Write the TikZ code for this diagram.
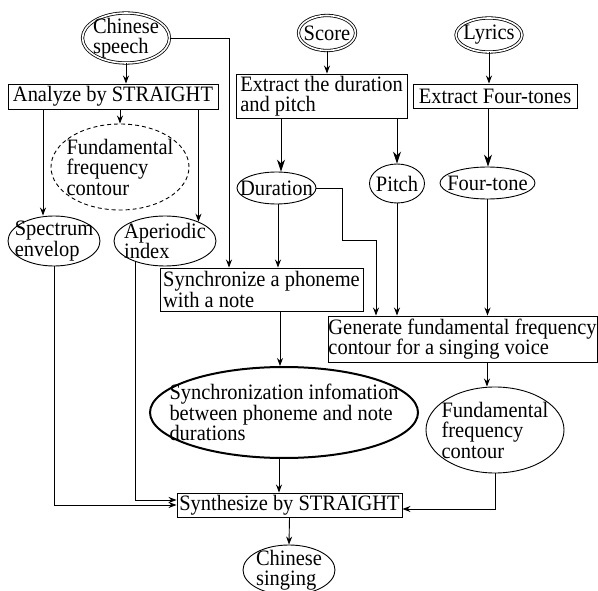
\documentclass[tikz,border=0pt]{standalone}
\usepackage{fontspec}
\setmainfont[FakeStretch=0.93]{Liberation Serif}
\usetikzlibrary{shapes.geometric, arrows.meta, positioning}

\tikzset{
    every node/.style={align=left, font=\fontsize{22}{20.5}\selectfont},
    proc/.style={draw, rectangle, inner sep=0pt},
    data/.style={draw, ellipse, inner sep=-40pt},
    src/.style={data, double, double distance=1.6pt, line width=0.8pt},
    arr/.style={-{Stealth[length=8pt,width=6pt]}},
    bigarr/.style={-{Stealth[length=12pt,width=8pt]}},
}

\begin{document}
\begin{tikzpicture}[x=1pt, y=-1pt, line width=0.9pt]
    \useasboundingbox (0,0) rectangle (598,591);

    % inputs
    \node[src, minimum width=87pt, minimum height=50pt] (speech) at (126,38) {Chinese\\speech};
    \node[src, minimum width=57pt, minimum height=35pt] (score) at (327,33) {Score};
    \node[src, minimum width=66pt, minimum height=34pt] (lyrics) at (489,35) {Lyrics};

    % analysis
    \node[proc, minimum width=210pt, minimum height=25pt] (analyze) at (113,96.5) {Analyze by STRAIGHT};
    \node[proc, minimum width=171pt, minimum height=44pt] (extdur) at (321.5,96) {Extract the duration\\and pitch};
    \node[proc, minimum width=164pt, minimum height=24pt] (extfour) at (495,96) {Extract Four-tones};

    \node[data, dashed, dash pattern=on 4pt off 3pt, minimum width=138pt, minimum height=86pt] (fzero) at (120,167) {Fundamental\\frequency\\contour};
    \node[data, minimum width=92pt, minimum height=50pt] (spec) at (54,241) {Spectrum\\envelop};
    \node[data, minimum width=102pt, minimum height=50pt] (aper) at (165,241) {Aperiodic\\index};
    \node[data, minimum width=79pt, minimum height=32pt] (dur) at (276.5,188) {Duration};
    \node[data, minimum width=55pt, minimum height=39pt] (pitch) at (397,183.5) {Pitch};
    \node[data, minimum width=95pt, minimum height=32pt] (four) at (487.5,183) {Four-tone};

    % synchronization and generation
    \node[proc, minimum width=203pt, minimum height=43pt] (sync) at (261.5,289.5) {Synchronize a phoneme\\with a note};
    \node[proc, minimum width=269pt, minimum height=46pt] (gen) at (462.5,339) {Generate fundamental frequency\\contour for a singing voice};
    \node[data, line width=2pt, minimum width=268pt, minimum height=91pt] (syncinfo) at (284,412.5) {Synchronization infomation\\between phoneme and note\\durations};
    \node[data, minimum width=138pt, minimum height=86pt] (fzerosing) at (495,430) {Fundamental\\frequency\\contour};

    % synthesis
    \node[proc, minimum width=225pt, minimum height=24pt] (synth) at (289.5,505) {Synthesize by STRAIGHT};
    \node[data, minimum width=92pt, minimum height=50pt] (singing) at (289,570) {Chinese\\singing};

    % connectors
    \draw[arr] (speech.south) -- (speech.south |- analyze.north);
    \draw[arr] (speech.east) -| (sync.north -| 229,0);
    \draw[arr] (analyze.south -| fzero.north) -- (fzero.north);
    \draw[arr] (analyze.south -| 43,0) -- (spec.north -| 43,0);
    \draw[arr] (analyze.south -| aper.30) -- (aper.30);

    \draw[arr] (score.south) -- (score.south |- extdur.north);
    \draw[bigarr] (extdur.south -| 281,0) -- (dur.north -| 281,0);
    \draw[bigarr] (extdur.south -| pitch.north) -- (pitch.north);
    \draw[arr] (lyrics.south) -- (lyrics.south |- extfour.north);
    \draw[bigarr] (extfour.south -| 488,0) -- (four.north -| 488,0);

    \draw[arr] (dur.east) -| ++(26,52) -| (gen.north -| 376,0);
    \draw[arr] (dur.south -| 278,0) -- (sync.north -| 278,0);
    \draw[arr] (pitch.south) -- (pitch.south |- gen.north);
    \draw[arr] (four.south) -- (four.south |- gen.north);

    \draw[arr] (sync.south -| 280,0) -- (syncinfo.north -| 280,0);
    \draw[arr] (gen.south -| 487,0) -- (fzerosing.north -| 487,0);

    \draw[arr] (syncinfo.south -| 279,0) -- (synth.north -| 279,0);
    \draw[arr] (spec.south) |- (synth.west);
    \draw[arr] (aper.215) |- ([yshift=5pt]synth.west);
    \draw[arr] (fzerosing.south) |- ([yshift=-4pt]synth.east);
    \draw[arr] (synth.south) -- (singing.north);
\end{tikzpicture}
\end{document}
